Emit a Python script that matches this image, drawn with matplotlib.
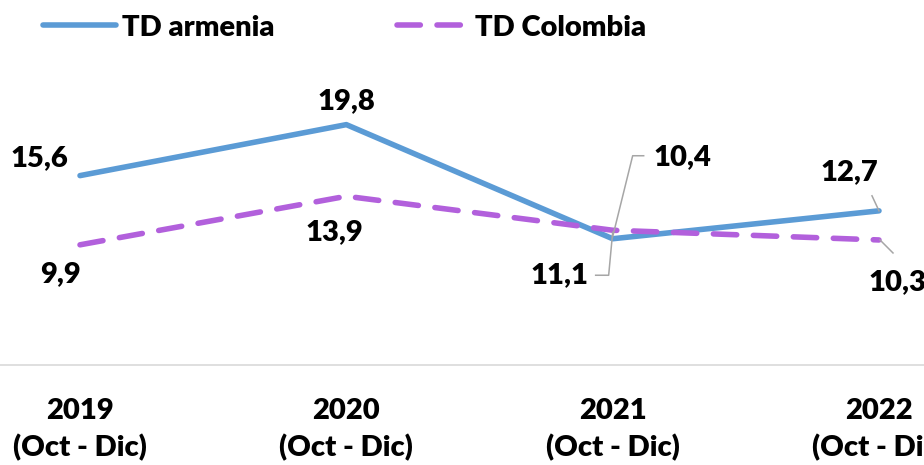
import matplotlib.pyplot as plt
from matplotlib.lines import Line2D
from matplotlib.transforms import IdentityTransform

plt.rcParams['font.family'] = ['Lato', 'DejaVu Sans']
plt.rcParams['font.weight'] = 'heavy'

years = ["2019\n(Oct - Dic)", "2020\n(Oct - Dic)", "2021\n(Oct - Dic)", "2022\n(Oct - Dic)"]
armenia = [15.6, 19.8, 10.4, 12.7]
colombia = [9.9, 13.9, 11.1, 10.3]

blue = "#5b9bd5"
purple = "#b260dc"
fs = 21

fig = plt.figure(figsize=(9.24, 4.65), dpi=100)
ax = fig.add_axes([0, 100 / 465, 1, 303.5 / 465])
x = list(range(len(years)))

ax.plot(x, armenia, color=blue, lw=4, solid_capstyle="round", label="TD armenia")
ax.plot(x, colombia, color=purple, lw=4, dashes=(4.2, 3.0), dash_capstyle="round",
        label="TD Colombia")

ax.set_xlim(-80 / 266.3, 3 + 45 / 266.3)
ax.set_ylim(0, 25)
ax.set_yticks([])
ax.set_xticks(x)
ax.set_xticklabels(years, fontsize=fs, linespacing=1.45)
ax.tick_params(axis="x", length=0, pad=24)
for s in ["top", "left", "right"]:
    ax.spines[s].set_visible(False)
ax.spines["bottom"].set_color("#d9d9d9")
ax.spines["bottom"].set_linewidth(1.2)

fig.canvas.draw()

def px(i, v):
    X, Y = ax.transData.transform((i, v))
    return X, Y

# label centre offsets in screen pixels (dx right, dy down) from each point
arm_off = [(-41, -17), (0, -24), (70, -82), (-30, -39)]
col_off = [(-20, 29), (-12, 36), (-53, 45), (18, 42)]
for vals, offs in [(armenia, arm_off), (colombia, col_off)]:
    for i, (v, (dx, dy)) in enumerate(zip(vals, offs)):
        X, Y = px(i, v)
        fig.text((X + dx) / 924, (Y - dy) / 465, f"{v:.1f}".replace(".", ","),
                 fontsize=fs, ha="center", va="center")

# leader lines, screen pixel offsets (dy down)
def leader(i, v, pts):
    X, Y = px(i, v)
    xs = [X + a for a, b in pts]
    ys = [Y - b for a, b in pts]
    fig.add_artist(Line2D(xs, ys, color="#a6a6a6", lw=1.1, transform=IdentityTransform()))

leader(2, 10.4, [(0, -2), (20, -83), (31, -83)])
leader(2, 11.1, [(0, 2), (-4, 45), (-17, 45)])
leader(3, 12.7, [(0, 0), (-7, -15)])
leader(3, 10.3, [(1, 0), (14, 13)])

fig.legend(loc="upper left", bbox_to_anchor=(0.018, 1.025), ncol=2, frameon=False,
           fontsize=fs, handlelength=2.5, columnspacing=4.2, handletextpad=0.2)

fig.savefig("out.png", dpi=100)
